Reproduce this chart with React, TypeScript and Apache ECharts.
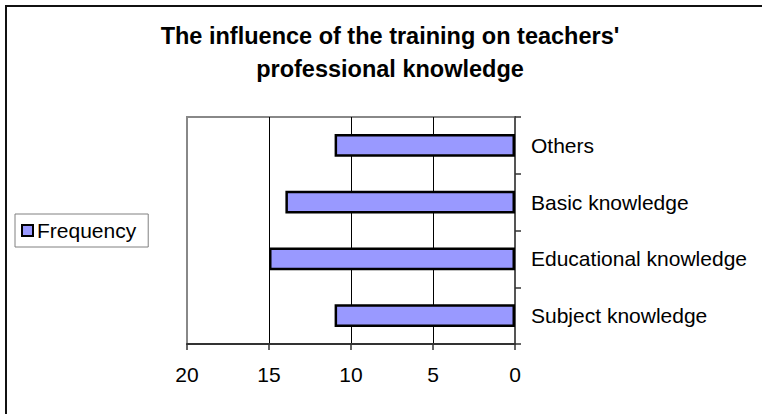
import React, { useEffect, useRef } from "react";
import * as echarts from "echarts";

const titleLines = ["The influence of the training on teachers'", "professional knowledge"];
const categories = ["Subject knowledge", "Educational knowledge", "Basic knowledge", "Others"];
const frequency = [11, 15, 14, 11];
const seriesName = "Frequency";
const xMin = 0;
const xMax = 20;
const xInterval = 5;

const FONT = "'Liberation Sans', Arial, sans-serif";

export default function App() {
  const ref = useRef<HTMLDivElement>(null);
  useEffect(() => {
    if (!ref.current) return;
    const chart = echarts.init(ref.current, null, { renderer: "svg" });
    chart.setOption({
      animation: false,
      backgroundColor: "#ffffff",
      textStyle: { fontFamily: FONT },
      title: {
        text: titleLines.join("\n"),
        left: 385,
        top: 14,
        textAlign: "center",
        textStyle: {
          fontFamily: FONT,
          fontSize: 23.5,
          fontWeight: "bold",
          color: "#000",
          lineHeight: 33,
        },
      },
      legend: {
        data: [seriesName],
        left: 15,
        top: 214,
        orient: "vertical",
        borderColor: "#808080",
        borderWidth: 1,
        borderRadius: 0,
        padding: [6, 12, 6, 6],
        itemWidth: 11,
        itemHeight: 11,
        icon: "rect",
        itemStyle: { borderColor: "#000", borderWidth: 2 },
        textStyle: { fontFamily: FONT, fontSize: 21, color: "#000", padding: [0, 0, 0, -1] },
      },
      grid: {
        left: 187,
        right: 247,
        top: 117,
        bottom: 70,
        show: true,
        borderColor: "#888",
        borderWidth: 2,
        containLabel: false,
      },
      xAxis: {
        type: "value",
        inverse: true,
        min: xMin,
        max: xMax,
        interval: xInterval,
        position: "bottom",
        axisLine: { show: true, lineStyle: { color: "#333", width: 2 } },
        axisTick: { show: true, length: 6, inside: false, lineStyle: { color: "#333", width: 1.5 } },
        axisLabel: { fontFamily: FONT, fontSize: 21, color: "#000", margin: 20 },
        splitLine: {
          show: true,
          lineStyle: { color: ["#555", "#000", "#000", "#000", "#888"], width: 1 },
        },
      },
      yAxis: {
        type: "category",
        data: categories,
        position: "right",
        axisLine: { show: true, lineStyle: { color: "#555", width: 2 } },
        axisTick: { show: true, length: 6, inside: false, alignWithLabel: false, lineStyle: { color: "#333", width: 1.5 } },
        axisLabel: { fontFamily: FONT, fontSize: 21, color: "#000", margin: 16 },
        splitLine: { show: false },
      },
      series: [
        {
          name: seriesName,
          type: "bar",
          data: frequency,
          barWidth: "40%",
          itemStyle: { color: "#9999FF", borderColor: "#000", borderWidth: 2.5 },
        },
      ],
      graphic: [
        {
          type: "rect",
          shape: { x: 6, y: 6, width: 900, height: 600 },
          style: { fill: "none", stroke: "#111", lineWidth: 2 },
          silent: true,
          z: 100,
        },
      ],
    });
    return () => chart.dispose();
  }, []);
  return (
    <div
      ref={ref}
      style={{ position: "fixed", left: 0, top: 0, width: 762, height: 414 }}
    />
  );
}
